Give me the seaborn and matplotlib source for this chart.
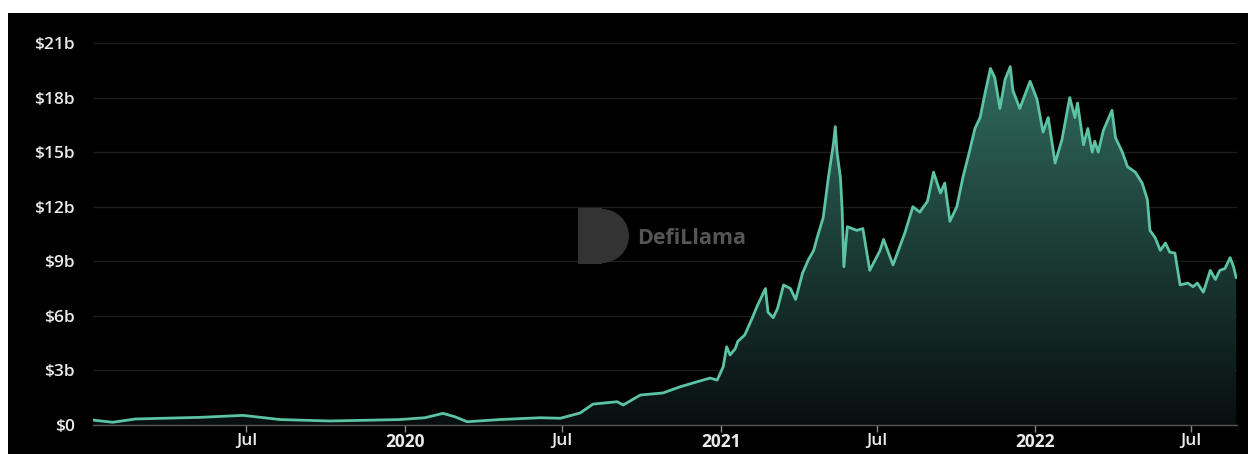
import pandas as pd
import numpy as np
import matplotlib
matplotlib.use("Agg")
import matplotlib.pyplot as plt
import matplotlib.dates as mdates
import matplotlib.patches as mpatches
from matplotlib.transforms import IdentityTransform
import seaborn as sns

dates = [
    "2019-01-04", "2019-01-27", "2019-02-22", "2019-04-03", "2019-05-08", "2019-06-27",
    "2019-08-09", "2019-10-06", "2019-12-26", "2020-01-24", "2020-02-14", "2020-02-28",
    "2020-03-13", "2020-04-20", "2020-06-06", "2020-06-29", "2020-07-22", "2020-08-06",
    "2020-09-03", "2020-09-10", "2020-09-30", "2020-10-26", "2020-11-15", "2020-12-05",
    "2020-12-20", "2020-12-28", "2021-01-04", "2021-01-08", "2021-01-12", "2021-01-18",
    "2021-01-21", "2021-01-29", "2021-02-06", "2021-02-13", "2021-02-22", "2021-02-25",
    "2021-03-03", "2021-03-08", "2021-03-15", "2021-03-23", "2021-03-29", "2021-04-06",
    "2021-04-13", "2021-04-19", "2021-04-23", "2021-04-30", "2021-05-06", "2021-05-12",
    "2021-05-14", "2021-05-16", "2021-05-20", "2021-05-22", "2021-05-24", "2021-05-28",
    "2021-06-08", "2021-06-15", "2021-06-23", "2021-07-05", "2021-07-09", "2021-07-20",
    "2021-08-03", "2021-08-12", "2021-08-20", "2021-08-29", "2021-09-05", "2021-09-13",
    "2021-09-18", "2021-09-24", "2021-10-02", "2021-10-09", "2021-10-17", "2021-10-23",
    "2021-10-29", "2021-11-04", "2021-11-10", "2021-11-15", "2021-11-21", "2021-11-27",
    "2021-12-03", "2021-12-06", "2021-12-14", "2021-12-26", "2022-01-03", "2022-01-10",
    "2022-01-16", "2022-01-24", "2022-02-01", "2022-02-10", "2022-02-16", "2022-02-19",
    "2022-02-26", "2022-03-03", "2022-03-08", "2022-03-11", "2022-03-15", "2022-03-21",
    "2022-03-31", "2022-04-04", "2022-04-12", "2022-04-18", "2022-04-27", "2022-05-05",
    "2022-05-11", "2022-05-14", "2022-05-20", "2022-05-26", "2022-06-01", "2022-06-06",
    "2022-06-12", "2022-06-18", "2022-06-27", "2022-07-03", "2022-07-08", "2022-07-15",
    "2022-07-23", "2022-07-29", "2022-08-03", "2022-08-09", "2022-08-15", "2022-08-19",
    "2022-08-22",
]
tvl = [
    0.27, 0.15, 0.33, 0.38, 0.42, 0.53,
    0.30, 0.22, 0.30, 0.40, 0.64, 0.45,
    0.18, 0.30, 0.40, 0.37, 0.66, 1.15,
    1.28, 1.10, 1.65, 1.76, 2.10, 2.38,
    2.58, 2.47, 3.20, 4.30, 3.85, 4.20,
    4.60, 4.95, 5.80, 6.60, 7.50, 6.20,
    5.90, 6.40, 7.70, 7.50, 6.90, 8.35,
    9.10, 9.60, 10.30, 11.40, 13.60, 15.50,
    16.40, 15.00, 13.60, 11.80, 8.70, 10.90,
    10.70, 10.80, 8.50, 9.60, 10.20, 8.80,
    10.60, 12.00, 11.70, 12.30, 13.90, 12.75,
    13.30, 11.20, 12.00, 13.60, 15.10, 16.30,
    16.90, 18.30, 19.60, 19.10, 17.40, 19.00,
    19.70, 18.40, 17.40, 18.90, 17.90, 16.10,
    16.90, 14.40, 15.70, 18.00, 16.90, 17.70,
    15.40, 16.30, 15.00, 15.60, 15.00, 16.20,
    17.30, 15.80, 15.00, 14.20, 13.90, 13.30,
    12.40, 10.70, 10.30, 9.60, 10.00, 9.50,
    9.45, 7.70, 7.80, 7.60, 7.80, 7.30,
    8.50, 8.00, 8.50, 8.60, 9.20, 8.70,
    8.10,
]

tick_dates = ["2019-07-01", "2020-01-01", "2020-07-01", "2021-01-01",
              "2021-07-01", "2022-01-01", "2022-07-01"]
tick_labels = ["Jul", "2020", "Jul", "2021", "Jul", "2022", "Jul"]
y_ticks = [0, 3, 6, 9, 12, 15, 18, 21]
y_labels = ["$0", "$3b", "$6b", "$9b", "$12b", "$15b", "$18b", "$21b"]

df = pd.DataFrame({"date": pd.to_datetime(dates), "tvl": tvl})

sns.set_theme(style="dark")
plt.rcParams["font.family"] = ["Open Sans", "DejaVu Sans"]

fig = plt.figure(figsize=(12.48, 4.54), dpi=100, facecolor="white")
# black card with a thin white margin on top and left
fig.patches.append(mpatches.Rectangle((8 / 1248, 0), 1, (454 - 13) / 454,
                                      transform=fig.transFigure, facecolor="black",
                                      edgecolor="none", zorder=-10))
ax = fig.add_axes([93 / 1248, 29 / 454, 1144 / 1248, 382 / 454])
ax.set_facecolor("black")

line_color = "#5cc3a5"
sns.lineplot(data=df, x="date", y="tvl", ax=ax, color=line_color, linewidth=2.0, zorder=4)

# gradient area under the line
xnum = mdates.date2num(df["date"])
x0 = mdates.date2num(pd.Timestamp("2019-01-04"))
x1 = mdates.date2num(pd.Timestamp("2022-08-23"))
poly = ax.fill_between(xnum, df["tvl"], 0, facecolor="none", edgecolor="none")
top = np.array([0.20, 0.44, 0.39])
bot = np.array([0.03, 0.06, 0.06])
t = np.linspace(1, 0, 256)[:, None]
grad = (bot + (top - bot) * t)[:, None, :]
img = ax.imshow(grad, extent=[x0, x1, 0, 21], aspect="auto", origin="upper", zorder=2)
img.set_clip_path(poly.get_paths()[0], transform=ax.transData)

ax.set_xlim(x0, x1)
ax.set_ylim(0, 21)

ax.set_yticks(y_ticks)
ax.set_yticklabels(y_labels)
ax.set_xticks(mdates.date2num(pd.to_datetime(tick_dates)))
ax.set_xticklabels(tick_labels)
for lab, txt in zip(ax.get_xticklabels(), tick_labels):
    lab.set_fontweight("bold" if txt.isdigit() else "semibold")

ax.grid(axis="y", color="#1c1c1c", linewidth=1)
ax.grid(axis="x", visible=False)
ax.tick_params(axis="y", length=0, pad=13, labelsize=12.5, labelcolor="#ebebeb")
ax.tick_params(axis="x", length=5, width=1, color="#8a8a8a", pad=1,
               labelsize=12.5, labelcolor="#ebebeb", bottom=True)
for lab in ax.get_yticklabels():
    lab.set_fontweight("semibold")
for s in ["top", "right", "left"]:
    ax.spines[s].set_visible(False)
ax.spines["bottom"].set_color("#555555")
ax.spines["bottom"].set_linewidth(1)
ax.set_xlabel("")
ax.set_ylabel("")

# DefiLlama watermark
logo_c = "#333333"
ident = IdentityTransform()
fig.patches.append(mpatches.Rectangle((578, 454 - 264), 24, 56, transform=ident,
                                      facecolor=logo_c, edgecolor="none", zorder=5))
fig.patches.append(mpatches.Wedge((602, 454 - 236), 27, -90, 90, transform=ident,
                                  facecolor=logo_c, edgecolor="none", zorder=5))
fig.text(637 / 1248, (454 - 238) / 454, "DefiLlama", color="#555555",
         fontsize=15.5, fontweight="bold", va="center", ha="left", zorder=6)

fig.savefig("out.png", dpi=100, facecolor=fig.get_facecolor())
